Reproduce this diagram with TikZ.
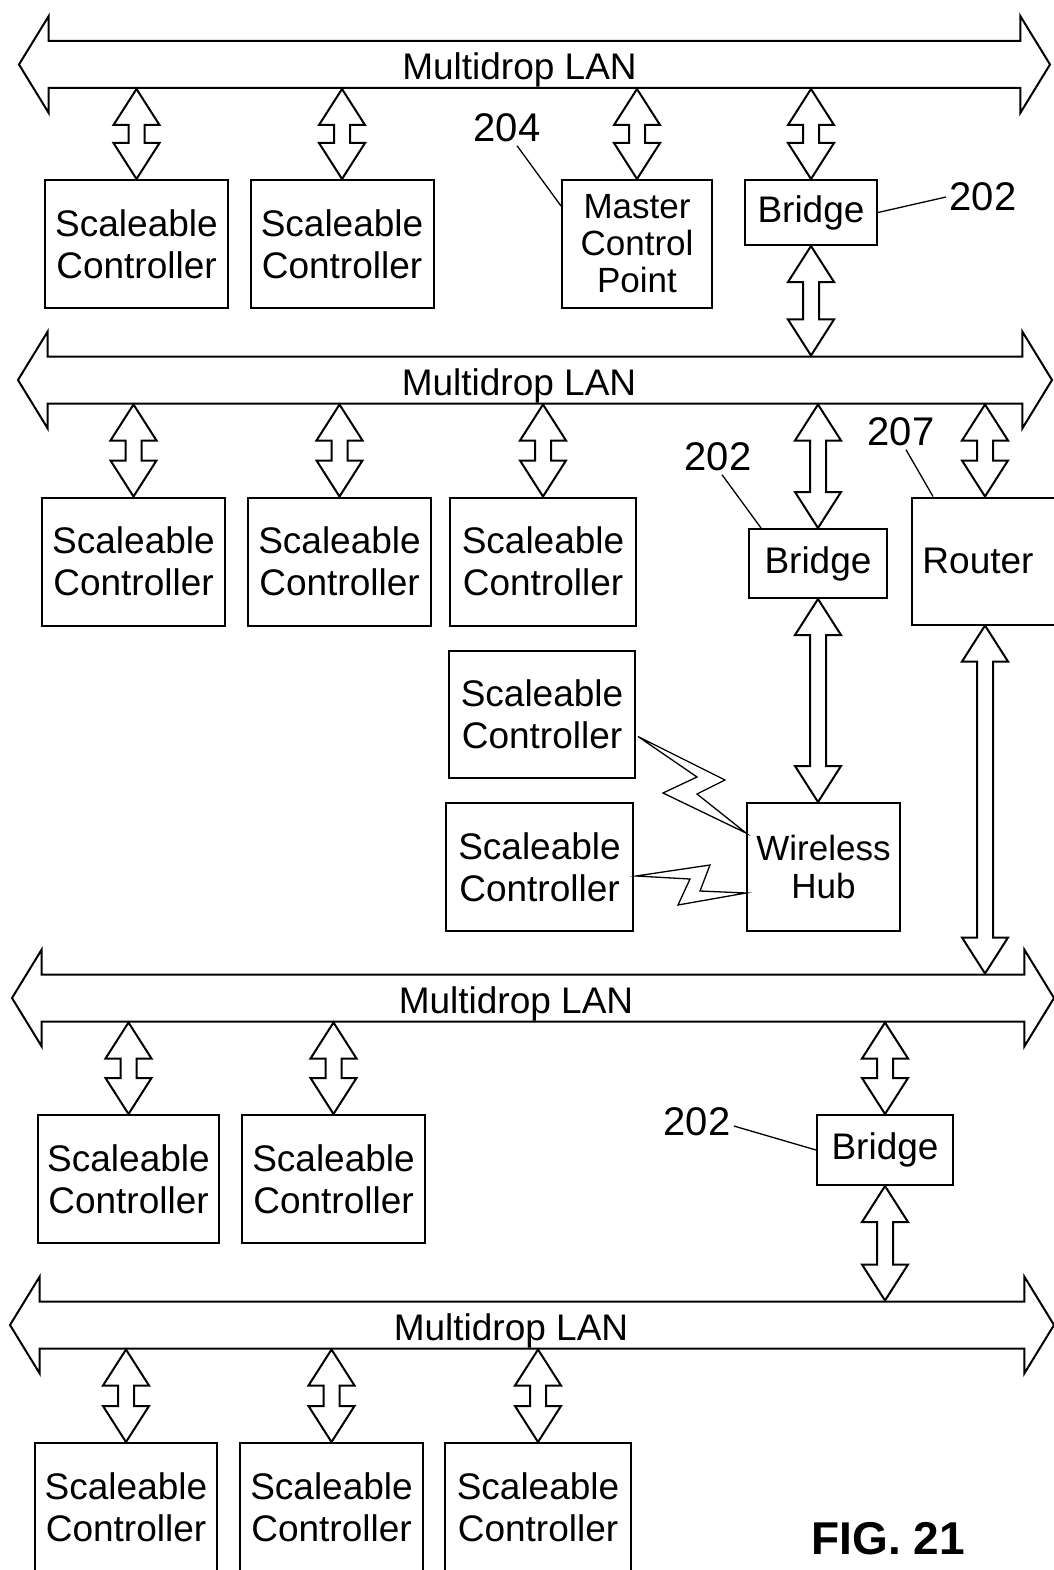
\documentclass[tikz,border=0pt]{standalone}
\usepackage{fontspec}
\setmainfont{Liberation Sans}
\usetikzlibrary{positioning, shapes.arrows, calc}

\begin{document}
\begin{tikzpicture}[
			x=1pt, y=-1pt,
			box/.style={draw, line width=2pt, inner sep=0pt, align=center, font=\fontsize{37}{42}\selectfont},
			unit/.style={box, minimum width=183pt, minimum height=128pt},
			lan/.style={double arrow, draw, line width=2pt, double arrow head extend=25pt, double arrow tip angle=117, minimum width=95pt, inner ysep=0pt, text height=38pt, text depth=7pt, font=\fontsize{37}{42}\selectfont},
			link/.style={line width=2pt, line join=miter, to path={let \p1=(\tikztostart), \p2=(\tikztotarget) in
				(\x1,\y1) -- (\x1-23pt,\y1-36pt) -- (\x1-8pt,\y1-36pt) -- (\x1-8pt,\y2+36pt) -- (\x1-23pt,\y2+36pt) -- (\x1,\y2)
				-- (\x1+23pt,\y2+36pt) -- (\x1+8pt,\y2+36pt) -- (\x1+8pt,\y1-36pt) -- (\x1+23pt,\y1-36pt) -- cycle}},
			ref/.style={font=\fontsize{40}{44}\selectfont},
			lead/.style={line width=1.3pt},
			bolt/.style={draw, line width=1.3pt, line join=miter}
			]
			\useasboundingbox (0,0) rectangle (1053,1570);

			% the four buses
			\node[lan, minimum height=1031pt] (lan1) at (534.5,64.5) {Multidrop LAN\hspace*{30pt}};
			\node[lan, minimum height=1034pt] (lan2) at (535,380) {Multidrop LAN\hspace*{32pt}};
			\node[lan, minimum height=1042pt] (lan3) at (533,998) {Multidrop LAN\hspace*{34pt}};
			\node[lan, minimum height=1044pt] (lan4) at (532,1325) {Multidrop LAN\hspace*{42pt}};

			% first row
			\node[unit] (sc1) at (136.5,244) {Scaleable\\Controller};
			\node[unit] (sc2) at (342,244) {Scaleable\\Controller};
			\node[box, minimum width=150pt, minimum height=128pt, font=\fontsize{35}{37}\selectfont] (mcp) at (637,244) {Master\\Control\\Point};
			\node[box, minimum width=132pt, minimum height=65pt] (br1) at (811,212.5) {Bridge};

			% second row
			\node[unit] (sc3) at (133.5,561.5) {Scaleable\\Controller};
			\node[unit] (sc4) at (339.5,561.5) {Scaleable\\Controller};
			\node[unit, minimum width=186pt] (sc5) at (543,561.5) {Scaleable\\Controller};
			\node[box, minimum width=138pt, minimum height=69pt] (br2) at (818,563.5) {Bridge};
			\node[box, minimum width=146pt, minimum height=127pt] (router) at (985,561) {Router\hspace*{14pt}};

			% wireless part
			\node[unit, minimum width=186pt, minimum height=127pt] (sc6) at (542,714.5) {Scaleable\\Controller};
			\node[unit, minimum width=187pt] (sc7) at (539.5,867) {Scaleable\\Controller};
			\node[box, minimum width=153pt, minimum height=128pt, font=\fontsize{35}{38}\selectfont] (hub) at (823.5,867) {Wireless\\Hub};

			% third row
			\node[unit, minimum width=181pt] (sc8) at (128.5,1179) {Scaleable\\Controller};
			\node[unit] (sc9) at (333.5,1179) {Scaleable\\Controller};
			\node[box, minimum width=136pt, minimum height=70pt] (br3) at (885,1150) {Bridge};

			% last row
			\node[unit, minimum width=182pt] (sc10) at (126,1507) {Scaleable\\Controller};
			\node[unit] (sc11) at (331.5,1507) {Scaleable\\Controller};
			\node[unit, minimum width=186pt] (sc12) at (538,1507) {Scaleable\\Controller};

			% reference numbers
			\node[ref] (n204) at (507,128) {204};
			\node[ref] (n202a) at (983,197) {202};
			\node[ref] (n202b) at (718,457) {202};
			\node[ref] (n207) at (901,432) {207};
			\node[ref] (n202c) at (697,1122) {202};
			\node[font=\bfseries\fontsize{46}{50}\selectfont, anchor=base, inner sep=0pt] (fig) at (888,1554) {FIG. 21};

			\draw[lead] ([xshift=10pt]n204.south) -- ($(mcp.north west)+(0,27)$);
			\draw[lead] (br1.east) -- (n202a.west);
			\draw[lead] ([xshift=4pt]n202b.south) -- ($(br2.north west)+(13,0)$);
			\draw[lead] ([xshift=5pt]n207.south) -- ($(router.north west)+(22,0)$);
			\draw[lead] ([yshift=-4pt]n202c.east) -- (br3.west);

			% bus links
			\foreach \u in {sc1, sc2, mcp, br1}
				\draw[link] (\u.north |- lan1.south) to (\u.north);
			\draw[link] (br1.south) to (br1.south |- lan2.north);
			\foreach \u in {sc3, sc4, sc5, br2, router}
				\draw[link] (\u.north |- lan2.south) to (\u.north);
			\draw[link] (br2.south) to (br2.south |- hub.north);
			\draw[link] (router.south) to (router.south |- lan3.north);
			\foreach \u in {sc8, sc9, br3}
				\draw[link] (\u.north |- lan3.south) to (\u.north);
			\draw[link] (br3.south) to (br3.south |- lan4.north);
			\foreach \u in {sc10, sc11, sc12}
				\draw[link] (\u.north |- lan4.south) to (\u.north);

			% radio links
			\coordinate (z1s) at ($(sc6.east)+(2,22)$);
			\coordinate (z1e) at ($(hub.west)+(0,-34)$);
			\coordinate (z2s) at ($(sc7.east)+(2,9)$);
			\coordinate (z2e) at ($(hub.west)+(0,26)$);
			\draw[bolt] (z1s) -- (725,780) -- (697,794) -- (z1e) -- (663,793) -- (697,777) -- cycle;
			\draw[bolt] (z2s) -- (710,865) -- (700,891) -- (z2e) -- (678,905) -- (690,879) -- cycle;
		\end{tikzpicture}
\end{document}
